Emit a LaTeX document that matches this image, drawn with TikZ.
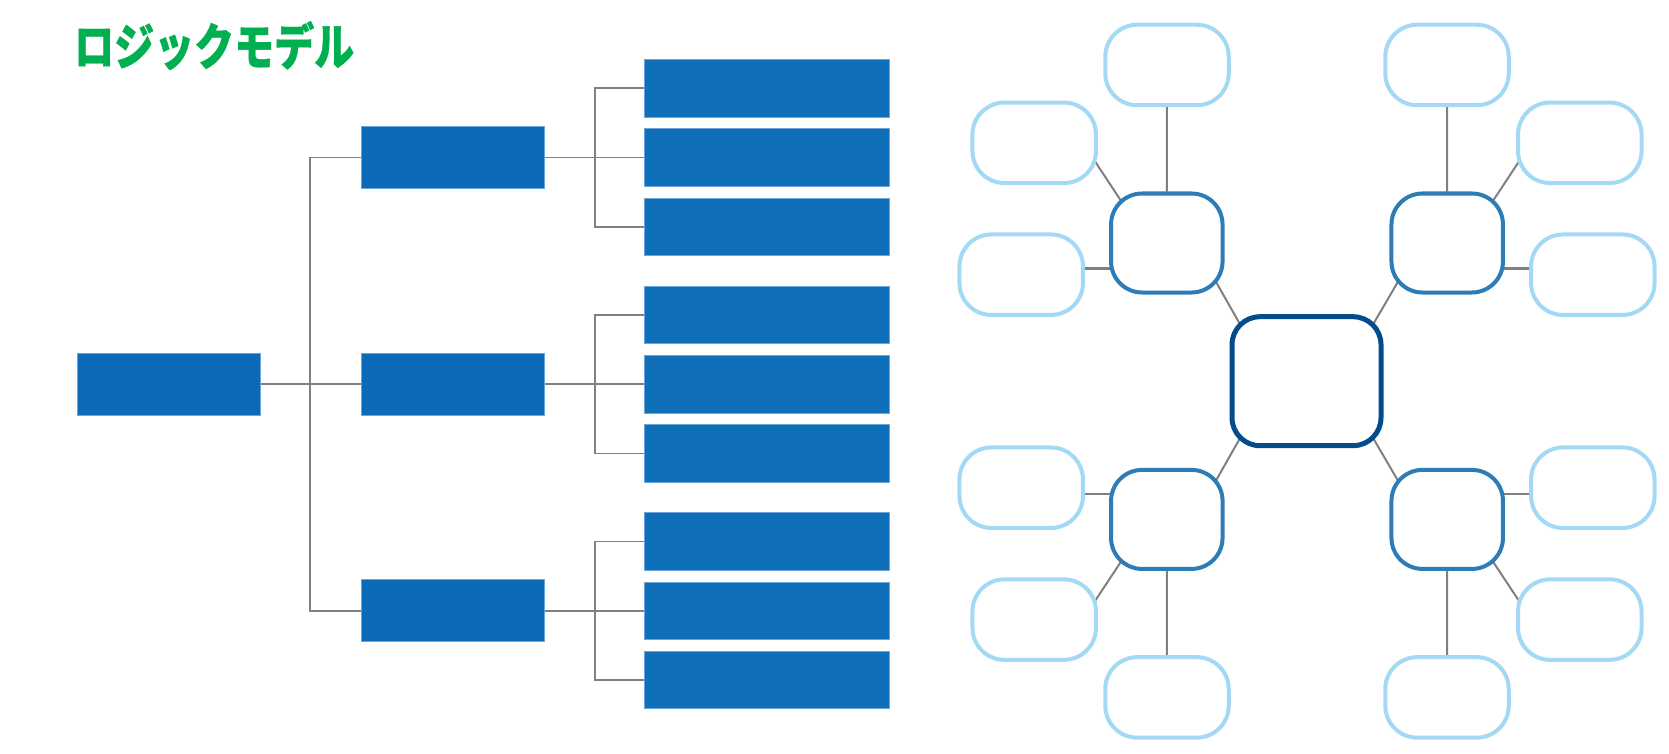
\documentclass[tikz,border=0pt]{standalone}
\usepackage{fontspec}
\newfontfamily\cjk{Noto Sans CJK JP}[BoldFeatures={FakeBold=0.8}]
\usetikzlibrary{calc}
\definecolor{titlegreen}{HTML}{00B050}
\definecolor{treeblue}{HTML}{0B6BB8}
\definecolor{leafblue}{HTML}{0F6FB8}
\definecolor{treeedge}{HTML}{6AA6DA}
\definecolor{linkgray}{HTML}{808080}
\definecolor{hubblue}{HTML}{034B8B}
\definecolor{subblue}{HTML}{2C7CB8}
\definecolor{lightblue}{HTML}{A4D9F6}
\pgfdeclarelayer{bg}
\pgfsetlayers{bg,main}
\tikzset{
  rootbox/.style={fill=treeblue, draw=treeedge, line width=1pt, minimum width=183.2pt, minimum height=62pt, inner sep=0pt},
  leafbox/.style={fill=leafblue, draw=treeedge, line width=1pt, minimum width=244.8pt, minimum height=57.6pt, inner sep=0pt},
  link/.style={draw=linkgray, line width=1.8pt},
  mlink/.style={draw=linkgray, line width=2pt},
  hub/.style={draw=hubblue, line width=5pt, fill=white, rounded corners=28pt, minimum width=149pt, minimum height=129pt, inner sep=0pt},
  subnode/.style={draw=subblue, line width=4pt, fill=white, rounded corners=31pt, minimum width=111.5pt, minimum height=99pt, inner sep=0pt},
  outer/.style={draw=lightblue, line width=4pt, fill=white, rounded corners=32pt, minimum width=123.5pt, minimum height=80.5pt, inner sep=0pt}
}
\begin{document}
\begin{tikzpicture}[x=1pt,y=-1pt]
\useasboundingbox (0,0) rectangle (1669,754);
% title
\node[anchor=base west, text=titlegreen, font=\cjk\bfseries\fontsize{40}{48}\selectfont, inner sep=0pt] (title) at (74,65) {\scalebox{1}[1.25]{ロジックモデル}};
% tree
\node[rootbox] (root) at (168.7,384.2) {};
\node[rootbox] (m1) at (452.9,157.6) {};
\node[rootbox] (m2) at (452.9,384.2) {};
\node[rootbox] (m3) at (452.9,610.8) {};
\node[leafbox] (l11) at (766.9,88.3) {};
\node[leafbox] (l12) at (766.9,157.6) {};
\node[leafbox] (l13) at (766.9,226.9) {};
\node[leafbox] (l21) at (766.9,314.9) {};
\node[leafbox] (l22) at (766.9,384.2) {};
\node[leafbox] (l23) at (766.9,453.5) {};
\node[leafbox] (l31) at (766.9,541.5) {};
\node[leafbox] (l32) at (766.9,610.8) {};
\node[leafbox] (l33) at (766.9,680.1) {};
\draw[link] (root) -- (m2);
\draw[link] (m1.west) -- ++(-51.1,0) |- (m3.west);
\draw[link] (m1) -- (l12);
\draw[link] (m2) -- (l22);
\draw[link] (m3) -- (l32);
\draw[link] (l11.west) -- ++(-49,0) |- (l13.west);
\draw[link] (l21.west) -- ++(-49,0) |- (l23.west);
\draw[link] (l31.west) -- ++(-49,0) |- (l33.west);
% mind map
\node[hub] (c) at (1306.5,381.2) {};
\node[subnode] (a) at (1166.8,243) {};
\node[subnode] (b) at (1447.2,243) {};
\node[subnode] (d) at (1166.8,519.4) {};
\node[subnode] (e) at (1447.2,519.4) {};
\node[outer] (a1) at (1167,65) {};
\node[outer] (a2) at (1034.2,142.8) {};
\node[outer] (a3) at (1021.2,274.7) {};
\node[outer] (b1) at (1447,65) {};
\node[outer] (b2) at (1579.8,142.8) {};
\node[outer] (b3) at (1592.8,274.7) {};
\node[outer] (d1) at (1167,697.4) {};
\node[outer] (d2) at (1034.2,619.6) {};
\node[outer] (d3) at (1021.2,487.7) {};
\node[outer] (e1) at (1447,697.4) {};
\node[outer] (e2) at (1579.8,619.6) {};
\node[outer] (e3) at (1592.8,487.7) {};
\begin{pgfonlayer}{bg}
\draw[mlink] ([shift={(-61.8,-48.7)}]c.center) -- ([shift={(44.3,30.3)}]a.center);
\draw[mlink] ([shift={(61.8,-48.7)}]c.center) -- ([shift={(-44.3,30.3)}]b.center);
\draw[mlink] ([shift={(-61.8,48.7)}]c.center) -- ([shift={(44.3,-30.3)}]d.center);
\draw[mlink] ([shift={(61.8,48.7)}]c.center) -- ([shift={(-44.3,-30.3)}]e.center);
\draw[mlink] (a) -- (a1);
\draw[mlink] (b) -- (b1);
\draw[mlink] (d) -- (d1);
\draw[mlink] (e) -- (e1);
\draw[mlink] ([shift={(-41.7,-36)}]a.center) -- ([shift={(55.9,11.2)}]a2.center);
\draw[mlink] ([shift={(41.7,-36)}]b.center) -- ([shift={(-55.9,11.2)}]b2.center);
\draw[mlink] ([shift={(-41.7,36)}]d.center) -- ([shift={(55.9,-11.2)}]d2.center);
\draw[mlink] ([shift={(41.7,36)}]e.center) -- ([shift={(-55.9,-11.2)}]e2.center);
\draw[mlink, line width=2.6pt] ([shift={(-50,25.3)}]a.center) -- ([shift={(55,-6.4)}]a3.center);
\draw[mlink, line width=2.6pt] ([shift={(50,25.3)}]b.center) -- ([shift={(-55,-6.4)}]b3.center);
\draw[mlink, line width=2.6pt] ([shift={(-50,-25.3)}]d.center) -- ([shift={(55,6.4)}]d3.center);
\draw[mlink, line width=2.6pt] ([shift={(50,-25.3)}]e.center) -- ([shift={(-55,6.4)}]e3.center);
\end{pgfonlayer}
\end{tikzpicture}
\end{document}
